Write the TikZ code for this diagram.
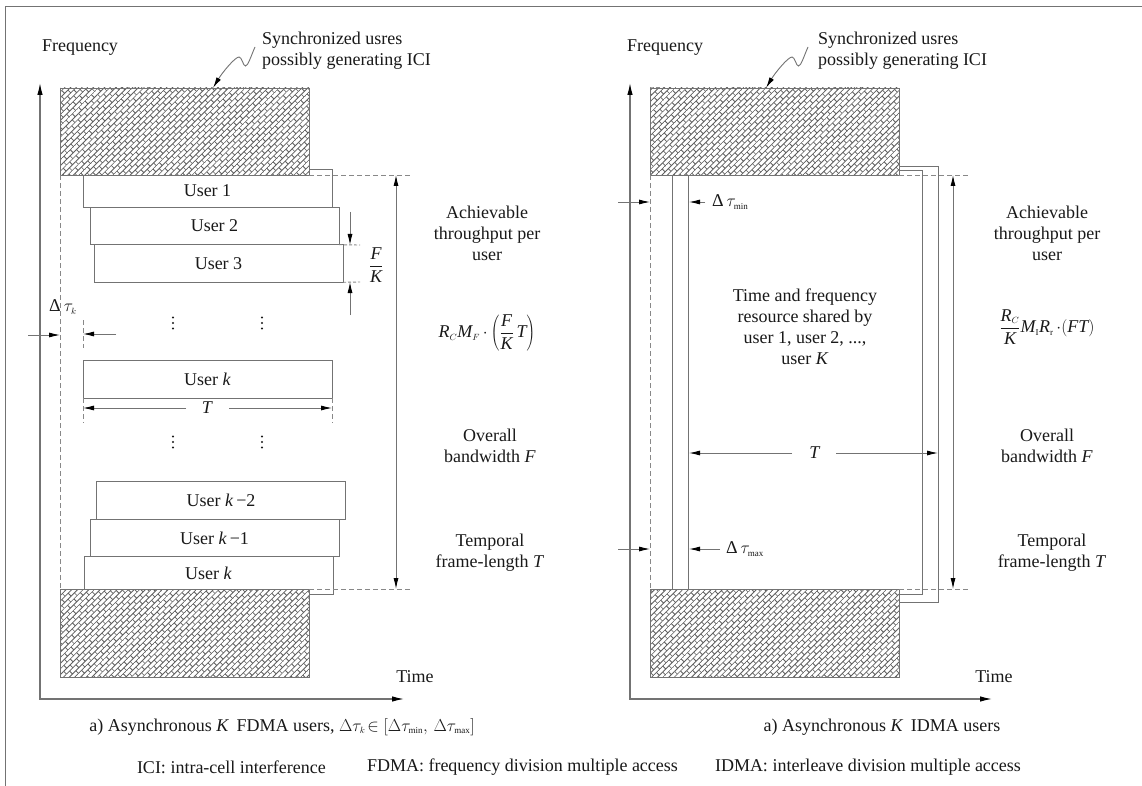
\documentclass[tikz,border=0pt]{standalone}
\usepackage{fontspec}
\setmainfont{Liberation Serif}
\usetikzlibrary{arrows.meta,patterns.meta}
\definecolor{ln}{RGB}{115,115,115}
\definecolor{hc}{RGB}{95,95,95}
\definecolor{tx}{RGB}{25,25,25}
\pgfdeclarepattern{
  name=bricks45,
  type=uncolored,
  bottom left={\pgfpoint{-0.2pt}{-0.2pt}},
  top right={\pgfpoint{9.2pt}{8.2pt}},
  tile size={\pgfpoint{9pt}{8pt}},
  tile transformation={\pgftransformrotate{45}},
  code={
    \pgfsetlinewidth{0.85pt}
    \pgfpathmoveto{\pgfpoint{0pt}{0pt}}\pgfpathlineto{\pgfpoint{9pt}{0pt}}
    \pgfpathmoveto{\pgfpoint{0pt}{4pt}}\pgfpathlineto{\pgfpoint{9pt}{4pt}}
    \pgfpathmoveto{\pgfpoint{0pt}{0pt}}\pgfpathlineto{\pgfpoint{0pt}{4pt}}
    \pgfpathmoveto{\pgfpoint{4.5pt}{4pt}}\pgfpathlineto{\pgfpoint{4.5pt}{8pt}}
    \pgfusepath{stroke}
  }
}
\begin{document}
\begin{tikzpicture}[x=1pt,y=-1pt,
  every node/.style={font=\fontsize{18}{21}\selectfont, text=tx, inner sep=0pt, outer sep=0pt},
  ubox/.style={draw=ln, fill=white, line width=0.9pt, minimum width=249pt, minimum height=37.5pt},
  rbox/.style={draw=ln, line width=0.9pt},
  hatch/.style={draw=ln, line width=0.9pt, preaction={fill=white}, pattern=bricks45, pattern color=hc, minimum width=249pt, minimum height=87pt},
  axis/.style={draw=ln, line width=1.2pt, {Latex[length=12pt,width=5.5pt,color=black]}-{Latex[length=12pt,width=5.5pt,color=black]}},
  dim/.style={draw=ln, line width=0.9pt},
  tip/.style={-{Latex[length=11pt,width=5pt,color=black]}},
  tips/.style={{Latex[length=11pt,width=5pt,color=black]}-{Latex[length=11pt,width=5pt,color=black]}},
  dsh/.style={draw=ln!85, line width=0.9pt, dash pattern=on 5pt off 3pt},
  dotc/.style={fill=tx, draw=none, circle, minimum size=2.3pt}
]
\useasboundingbox (0,0) rectangle (1142,786);
\fill[white] (0,0) rectangle (1142,786);

% frame
\coordinate (fa) at (5,786);
\coordinate (fb) at (5,7);
\coordinate (fc) at (1142,7);
\draw[ln, line width=1pt] (fa) -- (fb) -- (fc);

%%%%%%%%%%%%%%%% LEFT PANEL
\coordinate (O1) at (40,699);
\coordinate (Y1) at (40,83);
\coordinate (X1) at (404,699);
\draw[axis] (Y1) -- (O1) -- (X1);
\node (fq1) at (80,48) {Frequency};
\node (tm1) at (415,677) {Time};

% user boxes
\node[ubox] (u1) at (207.5,188.5) {};
\node[ubox] (u2) at (214.5,226) {User 2};
\node[ubox] (u3) at (218.5,263.5) {User 3};
\node[ubox] (uk) at (207.5,379.5) {User \textit{k}};
\node[ubox] (ukm2) at (221,500.5) {User \textit{k}\,−2};
\node[ubox] (ukm1) at (214.5,538) {User \textit{k}\,−1};
\node[ubox] (uk2) at (208.5,575.5) {};

% hatched blocks
\node[hatch] (h1) at (184.5,131.5) {};
\node[hatch, minimum height=88pt] (h1b) at (184.5,633) {};
\node (u1t) at (207.5,191) {User 1};
\node (uk2t) at (208.5,573) {User \textit{k}};

% dashed guides
\coordinate (d1a) at (410,175);
\coordinate (d1b) at (410,589);
\draw[dsh] (h1.south east) -- (d1a);
\draw[dsh] (h1b.north east) -- (d1b);
\draw[dsh] (h1.south west) -- (h1b.north west);

% overall bandwidth arrow
\coordinate (v1a) at (396,175);
\coordinate (v1b) at (396,589);
\draw[dim, tips] (v1a) -- (v1b);

% F/K
\coordinate (fk1) at (350,212);
\coordinate (fk2) at (350,245);
\coordinate (fk3) at (350,315);
\coordinate (fk4) at (350,282);
\coordinate (fk5) at (360,245);
\coordinate (fk6) at (360,282);
\draw[dim, tip] (fk1) -- (fk2);
\draw[dim, tip] (fk3) -- (fk4);
\draw[dsh, dash pattern=on 3pt off 2pt] (u2.south east) -- (fk5);
\draw[dsh, dash pattern=on 3pt off 2pt] (u3.south east) -- (fk6);
\node (fk) at (376,265) {$\displaystyle\frac{\mathit{F}}{\mathit{K}}$};

% delta tau k
\coordinate (dk1) at (28,335);
\coordinate (dk2) at (60,335);
\coordinate (dk3) at (116,334);
\coordinate (dk4) at (83,334);
\coordinate (dk5) at (83,320);
\coordinate (dk6) at (83,348);
\draw[dim, tip] (dk1) -- (dk2);
\draw[dim, tip] (dk3) -- (dk4);
\draw[dsh] (dk5) -- (dk6);
\node (dkt) at (63,307) {Δ\,$\tau_{\scriptscriptstyle k}$};

% dots
\foreach \x/\y in {173/323, 262/323, 173/442, 262/442}{
  \node[dotc] at (\x,\y-5.5) {};
  \node[dotc] at (\x,\y) {};
  \node[dotc] at (\x,\y+5.5) {};
}

% T dimension
\coordinate (t1a) at (186,408);
\coordinate (t1b) at (83,408);
\coordinate (t1c) at (229,408);
\coordinate (t1d) at (332,408);
\coordinate (t1e) at (83,423);
\coordinate (t1f) at (332,423);
\draw[dim, tip] (t1a) -- (t1b);
\draw[dim, tip] (t1c) -- (t1d);
\draw[dsh] (uk.south west) -- (t1e);
\draw[dsh] (uk.south east) -- (t1f);
\node (t1) at (207.5,408) {\textit{T}};

% squiggle + note
\coordinate (s1a) at (255,47);
\coordinate (s1b) at (213,88);
\draw[dim, tip] (s1a) .. controls (251,56) and (248,66) .. (245.5,66) .. controls (243,66) and (242,57) .. (239,57) .. controls (235,57) and (222,73) .. (s1b);
\node[anchor=west, align=left] (sy1) at (262,51) {Synchronized usres\\possibly generating ICI};

% right texts
\node[align=center] (ach1) at (487,233) {Achievable\\throughput per\\user};
\node (fm1) at (487,333) {$\mathit{R}_{\scriptscriptstyle C}\mathit{M}_{\scriptscriptstyle F}\,{\cdot}\left(\displaystyle\frac{\mathit{F}}{\mathit{K}}\,\mathit{T}\right)$};
\node[align=center] (ov1) at (490,446) {Overall\\bandwidth \textit{F}};
\node[align=center] (tp1) at (490,553) {Temporal\\frame-length \textit{T}};

%%%%%%%%%%%%%%%% RIGHT PANEL
\coordinate (O2) at (630,699);
\coordinate (Y2) at (630,83);
\coordinate (X2) at (992,699);
\draw[axis] (Y2) -- (O2) -- (X2);
\node (fq2) at (665,48) {Frequency};
\node (tm2) at (994,677) {Time};

\node[rbox, minimum width=249.5pt, minimum height=436pt] (rB) at (813.5,384) {};
\node[rbox, minimum width=250pt, minimum height=424pt] (rA) at (797,382) {};

\node[hatch] (h2) at (774.5,131.5) {};
\node[hatch, minimum height=88pt] (h2b) at (774.5,633) {};

\coordinate (d2a) at (970,175);
\coordinate (d2b) at (970,589);
\draw[dsh] (h2.south east) -- (d2a);
\draw[dsh] (h2b.north east) -- (d2b);
\draw[dsh] (h2.south west) -- (h2b.north west);

\coordinate (v2a) at (953,175);
\coordinate (v2b) at (953,589);
\draw[dim, tips] (v2a) -- (v2b);

% delta tau min / max
\coordinate (m1) at (618,202);
\coordinate (m2) at (650,202);
\coordinate (m3) at (705,202);
\coordinate (m4) at (689,202);
\draw[dim, tip] (m1) -- (m2);
\draw[dim, tip] (m3) -- (m4);
\node[anchor=west] (dmin) at (712,202) {Δ\,$\tau_{\scriptscriptstyle\mathrm{min}}$};
\coordinate (x1) at (618,549);
\coordinate (x2) at (650,549);
\coordinate (x3) at (720,549);
\coordinate (x4) at (689,549);
\draw[dim, tip] (x1) -- (x2);
\draw[dim, tip] (x3) -- (x4);
\node[anchor=west] (dmax) at (726,549) {Δ\,$\tau_{\scriptscriptstyle\mathrm{max}}$};

% T dimension right
\coordinate (t2a) at (792,453);
\coordinate (t2b) at (689,453);
\coordinate (t2c) at (836,453);
\coordinate (t2d) at (938,453);
\draw[dim, tip] (t2a) -- (t2b);
\draw[dim, tip] (t2c) -- (t2d);
\node (t2) at (815,453) {\textit{T}};

\node[align=center] (sh) at (805,327) {Time and frequency\\resource shared by\\user 1, user 2, ...,\\user \textit{K}};

% squiggle + note
\begin{scope}[shift={(553,0)}]
\coordinate (s2a) at (255,47);
\coordinate (s2b) at (213,88);
\draw[dim, tip] (s2a) .. controls (251,56) and (248,66) .. (245.5,66) .. controls (243,66) and (242,57) .. (239,57) .. controls (235,57) and (222,73) .. (s2b);
\end{scope}
\node[anchor=west, align=left] (sy2) at (818,51) {Synchronized usres\\possibly generating ICI};

\node[align=center] (ach2) at (1047,233) {Achievable\\throughput per\\user};
\node (fm2) at (1047,327) {$\displaystyle\frac{\mathit{R}_{\scriptscriptstyle C}}{\mathit{K}}\mathit{M}_{\scriptscriptstyle\mathrm{I}}\mathit{R}_{\scriptscriptstyle\mathrm{r}}\,{\cdot}(\mathit{FT})$};
\node[align=center] (ov2) at (1047,446) {Overall\\bandwidth \textit{F}};
\node[align=center] (tp2) at (1052,553) {Temporal\\frame-length \textit{T}};

%%%%%%%%%%%%%%%% CAPTIONS
\node (cap1) at (282,727) {a) Asynchronous \textit{K}\, FDMA users, $\Delta\tau_{\scriptscriptstyle k}\!\in[\Delta\tau_{\scriptscriptstyle\mathrm{min}},\,\Delta\tau_{\scriptscriptstyle\mathrm{max}}]$};
\node (cap2) at (882,727) {a) Asynchronous \textit{K}\, IDMA users};
\node[anchor=west] (n1) at (137,767) {ICI: intra-cell interference};
\node[anchor=west] (n2) at (367,767) {FDMA: frequency division multiple access};
\node[anchor=west] (n3) at (715,767) {IDMA: interleave division multiple access};
\end{tikzpicture}
\end{document}
